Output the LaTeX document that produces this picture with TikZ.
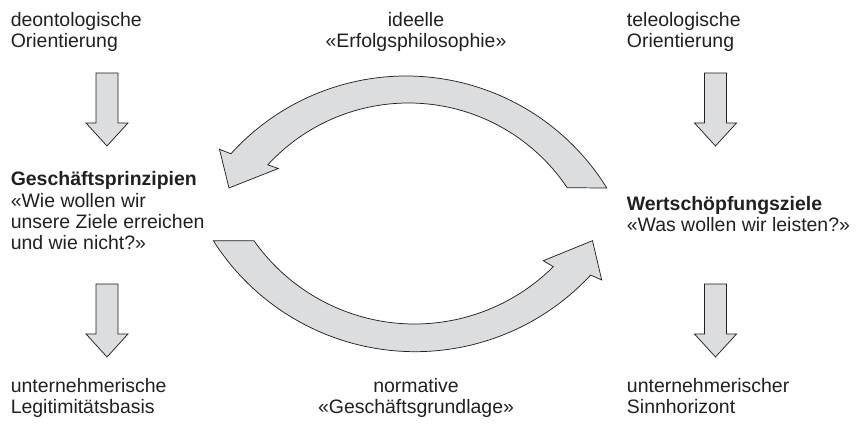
\documentclass[tikz,border=0pt]{standalone}
\usepackage{fontspec}
\setmainfont{Liberation Sans}
\usetikzlibrary{calc}
\definecolor{arrowfill}{RGB}{220,221,222}
\definecolor{ink}{RGB}{35,31,32}
\begin{document}
\begin{tikzpicture}[x=0.75pt,y=0.75pt,
  blockarrow/.style={fill=arrowfill,draw=ink,line width=0.55pt,line join=miter},
  lbl/.style={inner sep=0pt,font=\fontsize{14.6}{16.1}\selectfont,text=ink},
  lblleft/.style={lbl,align=left,anchor=base west},
  lblcenter/.style={lbl,align=center,anchor=base},
  downarrowshape/.pic={
    \path[blockarrow] (-11,0) -- (11,0) -- (11,-50) -- (21,-50) -- (0,-73)
      -- (-21,-50) -- (-11,-50) -- cycle;
  }]
\useasboundingbox (0,0) rectangle (868,424);

% text blocks (anchor = baseline of the last line)
\node[lblleft] (deon) at (10.5,376) {deontologische\\Orientierung};
\node[lblcenter] (ideell) at (416,376) {ideelle\\«Erfolgsphilosophie»};
\node[lblleft] (teleo) at (626.7,376) {teleologische\\Orientierung};

\node[lblleft] (gp) at (10.5,174) {\textbf{Geschäftsprinzipien}\\«Wie wollen wir\\unsere Ziele erreichen\\und wie nicht?»};
\node[lblleft] (wz) at (626.5,192.5) {\textbf{Wertschöpfungsziele}\\«Was wollen wir leisten?»};

\node[lblleft] (legit) at (10.5,10) {unternehmerische\\Legitimitätsbasis};
\node[lblcenter] (norm) at (416,10) {normative\\«Geschäftsgrundlage»};
\node[lblleft] (sinn) at (626.7,10) {unternehmerischer\\Sinnhorizont};

% straight block arrows
\pic (a1) at (107,351) {downarrowshape};
\pic (a2) at (715.5,351) {downarrowshape};
\pic (a3) at (107,140) {downarrowshape};
\pic (a4) at (715.5,140) {downarrowshape};

% upper curved arrow (right to left)
\coordinate (uc1) at (406,112);
\coordinate (uc2) at (408.5,130);
\path[blockarrow] ($(uc1)+(31.7:236)$) arc[start angle=31.7,end angle=137.9,radius=236]
  -- (219.5,274.7) -- (229,236) -- (278.3,255.5) -- ($(uc2)+(137.45:191)$)
  arc[start angle=137.45,end angle=33.8,radius=191] -- cycle;

% lower curved arrow (left to right)
\coordinate (lc1) at (415.2,311.4);
\coordinate (lc2) at (414.6,296.5);
\path[blockarrow] ($(lc1)+(212.4:239.1)$) arc[start angle=212.4,end angle=317.2,radius=239.1]
  -- (601.7,144) -- (592.5,183.3) -- (543.3,163.3) -- ($(lc2)+(314.9:196.5)$)
  arc[start angle=314.9,end angle=215.2,radius=196.5] -- cycle;
\end{tikzpicture}
\end{document}
